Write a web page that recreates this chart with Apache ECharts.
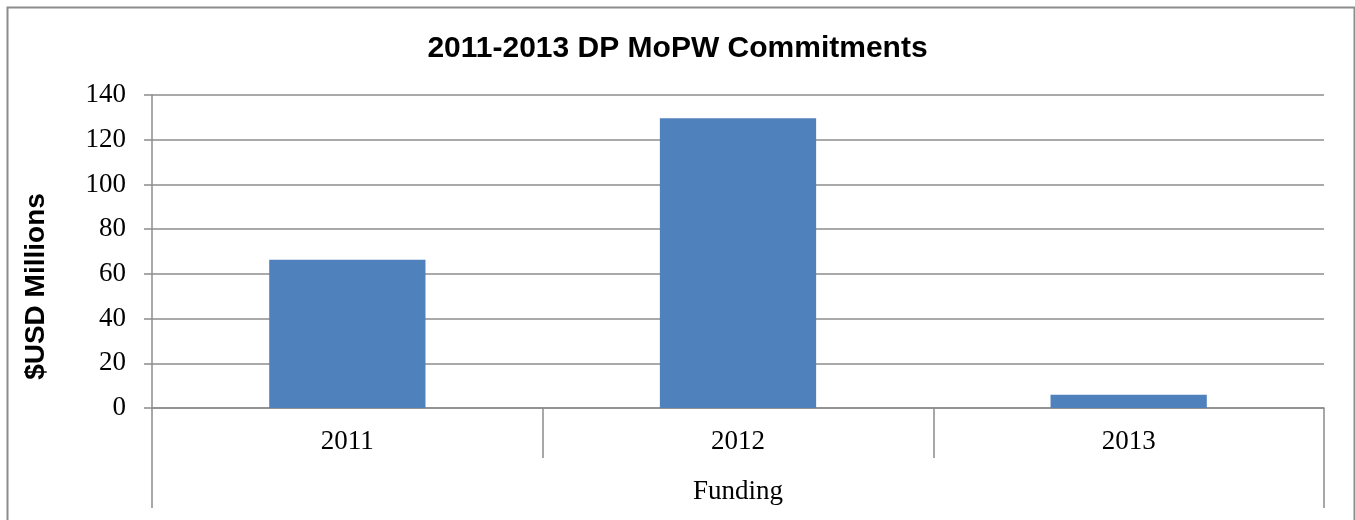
<!DOCTYPE html>
<html>
<head>
<meta charset="utf-8">
<script src="https://cdn.jsdelivr.net/npm/echarts@6/dist/echarts.min.js"></script>
<style>
html,body{margin:0;padding:0;background:#fff;}
#chart{width:1355px;height:520px;}
</style>
</head>
<body>
<div id="chart"></div>
<script>
const titleText = '2011-2013 DP MoPW Commitments';
const yAxisName = '$USD Millions';
const categories = ['2011', '2012', '2013'];
const groupLabels = ['Funding'];
const values = [66.3, 129.6, 5.9];
const yTicks = { min: 0, max: 140, interval: 20 };

const gray = '#8c8c8c';
const serif = '"Liberation Serif", "DejaVu Serif", serif';
const sans = '"Liberation Sans", Arial, sans-serif';

const chart = echarts.init(document.getElementById('chart'), null, { renderer: 'canvas' });
chart.setOption({
  animation: false,
  backgroundColor: '#fff',
  graphic: [{
    type: 'rect', left: 5, top: 5, silent: true,
    shape: { width: 1347, height: 530 },
    style: { fill: 'none', stroke: gray, lineWidth: 2 }
  }],
  title: {
    text: titleText, left: 'center', top: 29,
    textStyle: { fontFamily: sans, fontWeight: 'bold', fontSize: 30, color: '#000' }
  },
  grid: { left: 152, right: 31, top: 95, bottom: 112, containLabel: false },
  xAxis: [{
    type: 'category', data: categories, position: 'bottom',
    axisLine: { show: true, lineStyle: { color: gray, width: 1.5 } },
    axisTick: { show: true, length: 50, interval: 0, lineStyle: { color: gray, width: 1.5 } },
    axisLabel: { margin: 20, fontFamily: serif, fontSize: 27, color: '#000' }
  }, {
    type: 'category', data: groupLabels, position: 'bottom',
    axisLine: { show: false },
    axisTick: { show: true, length: 100, lineStyle: { color: gray, width: 1.5 } },
    axisLabel: { margin: 70, fontFamily: serif, fontSize: 27, color: '#000' }
  }],
  yAxis: {
    type: 'value', min: yTicks.min, max: yTicks.max, interval: yTicks.interval,
    name: yAxisName, nameLocation: 'middle', nameRotate: 90, nameGap: 102,
    nameTextStyle: { fontFamily: sans, fontWeight: 'bold', fontSize: 28, color: '#000', padding: [0, 70, 0, 0] },
    axisLine: { show: true, lineStyle: { color: gray, width: 1.5 } },
    axisTick: { show: true, length: 8, lineStyle: { color: gray, width: 1.5 } },
    splitLine: { show: true, lineStyle: { color: gray, width: 1.5 } },
    axisLabel: { margin: 26, fontFamily: serif, fontSize: 27, color: '#000' }
  },
  series: [{
    type: 'bar', data: values, xAxisIndex: 0,
    barCategoryGap: '60%',
    itemStyle: { color: '#4F81BD' }
  }]
});
</script>
</body>
</html>
